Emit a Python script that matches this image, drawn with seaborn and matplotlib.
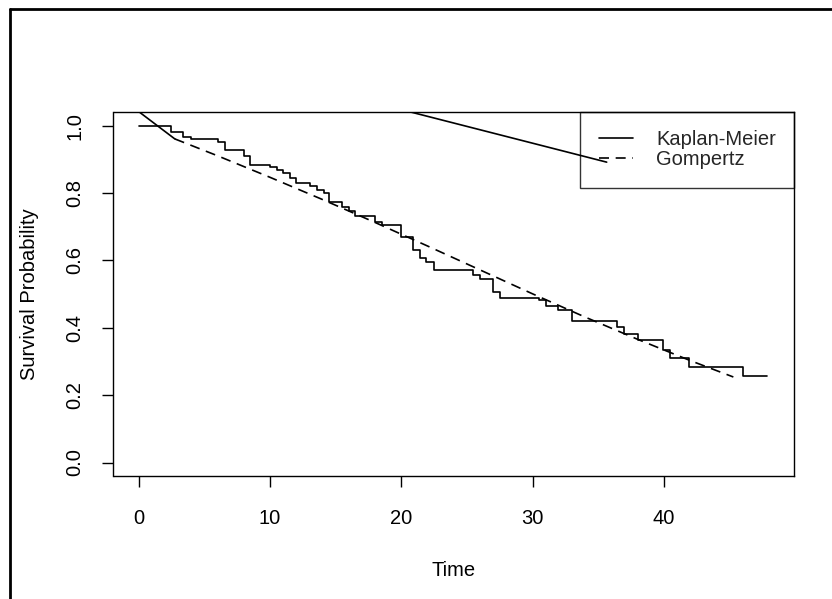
import numpy as np
import seaborn as sns
import matplotlib
matplotlib.use("Agg")
import matplotlib.pyplot as plt
from matplotlib.lines import Line2D

# Kaplan-Meier step values (time, survival after step)
km_time = [0, 2.44, 3.38, 3.97, 6.05, 6.56, 8.04, 8.47, 10.0, 10.5, 11.0, 11.5,
           12.0, 13.05, 13.56, 14.1, 14.5, 15.5, 16.0, 16.5, 18.0, 18.5, 20.0,
           20.9, 21.4, 21.9, 22.5, 25.5, 26.0, 27.0, 27.5, 30.5, 31.0, 31.95,
           33.0, 36.4, 37.0, 38.0, 39.95, 40.5, 41.9, 46.0, 47.9]
km_surv = [1.0, 0.982, 0.967, 0.961, 0.951, 0.928, 0.910, 0.884, 0.877, 0.869,
           0.859, 0.846, 0.829, 0.822, 0.809, 0.799, 0.774, 0.760, 0.748, 0.733,
           0.714, 0.704, 0.670, 0.632, 0.606, 0.596, 0.571, 0.557, 0.545, 0.507,
           0.490, 0.482, 0.464, 0.453, 0.421, 0.403, 0.383, 0.363, 0.334, 0.311,
           0.284, 0.257, 0.257]

# Gompertz fitted curve
gomp_time = [2.75, 6, 10, 14, 18, 22, 26, 30, 34, 38, 42, 45.3]
gomp_surv = [0.961, 0.911, 0.847, 0.781, 0.713, 0.643, 0.572, 0.501, 0.432,
             0.366, 0.303, 0.254]

# stray solid segment (start of gompertz -> off-plot -> legend)
stray_time = [2.75, -10.5, 35.65]
stray_surv = [0.961, 1.352, 0.892]

x_ticks = [0, 10, 20, 30, 40]
y_ticks = [0.0, 0.2, 0.4, 0.6, 0.8, 1.0]

sns.set_style("white")
plt.rcParams['font.family'] = ['Liberation Sans', 'DejaVu Sans']
fs = 14.5

fig = plt.figure(figsize=(8.32, 5.99), dpi=100)
ax = fig.add_axes([113.5 / 832, 1 - 476 / 599, (794 - 113.5) / 832, (476 - 112.3) / 599])

sns.lineplot(x=km_time, y=km_surv, drawstyle='steps-post', estimator=None,
             sort=False, color='black', lw=1.2, ax=ax)
sns.lineplot(x=gomp_time, y=gomp_surv, estimator=None, sort=False,
             color='black', lw=1.2, linestyle=(0, (6, 4)), ax=ax)
sns.lineplot(x=stray_time, y=stray_surv, estimator=None, sort=False,
             color='black', lw=1.2, ax=ax)

ax.set_xlim(-1.92, 49.92)
ax.set_ylim(-0.04, 1.04)
ax.set_xticks(x_ticks, [str(t) for t in x_ticks], fontsize=fs)
ax.set_yticks(y_ticks, [f"{t:.1f}" for t in y_ticks], fontsize=fs,
              rotation=90, va='center')
ax.tick_params(axis='both', direction='out', length=8, width=1, color='black',
               labelcolor='black', bottom=True, left=True)
ax.tick_params(axis='x', pad=16)
ax.tick_params(axis='y', pad=13)
for s in ax.spines.values():
    s.set_color('black')
    s.set_linewidth(1)

ax.set_xlabel('Time', fontsize=fs, color='black')
ax.set_ylabel('Survival Probability', fontsize=fs, color='black')
ax.xaxis.set_label_coords(0.5, -0.234)
ax.xaxis.label.set_va('top')
ax.yaxis.set_label_coords(-0.1095, 0.5)

handles = [Line2D([], [], color='black', lw=1.2),
           Line2D([], [], color='black', lw=1.2, linestyle=(0, (6, 4)))]
leg = ax.legend(handles, ['Kaplan-Meier', 'Gompertz'], loc='upper right',
                borderaxespad=0, fontsize=fs, fancybox=False, frameon=True,
                edgecolor='black', facecolor='none', framealpha=None,
                handlelength=1.7, handletextpad=1.15, labelspacing=0.05,
                borderpad=0.9)
leg.get_frame().set_linewidth(1)

# outer device frame
fig.add_artist(Line2D([10 / 832, 1], [1 - 9 / 599, 1 - 9 / 599], color='black', lw=2,
                      transform=fig.transFigure))
fig.add_artist(Line2D([10 / 832, 10 / 832], [0, 1 - 9 / 599], color='black', lw=2,
                      transform=fig.transFigure))

fig.savefig("out.png", dpi=100)
